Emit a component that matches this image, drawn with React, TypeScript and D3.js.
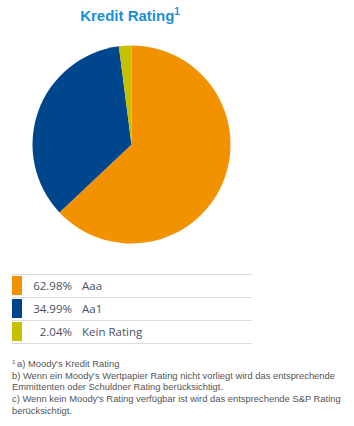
import React, { useRef, useEffect } from "react";
import * as d3 from "d3";

const categories = ["Aaa", "Aa1", "Kein Rating"];
const shares = [62.98, 34.99, 2.04];
const colors = ["#f39200", "#00468c", "#c6c000"];
const footnotes = [
  "a) Moody's Kredit Rating",
  "b) Wenn ein Moody's Wertpapier Rating nicht vorliegt wird das entsprechende",
  "Emmittenten oder Schuldner Rating berücksichtigt.",
  "c) Wenn kein Moody's Rating verfügbar ist wird das entsprechende S&P Rating",
  "berücksichtigt.",
];

const W = 354;
const H = 426;

const App = () => {
  const ref = useRef<SVGSVGElement>(null);

  useEffect(() => {
    const svg = d3.select(ref.current);
    svg.selectAll("*").remove();

    // title
    const title = svg
      .append("text")
      .attr("x", 130)
      .attr("y", 21)
      .attr("text-anchor", "middle")
      .attr("font-family", "Liberation Sans, Arial, sans-serif")
      .attr("font-weight", "bold")
      .attr("font-size", 15)
      .attr("fill", "#1b8fd8");
    title.append("tspan").text("Kredit Rating");
    title
      .append("tspan")
      .attr("font-size", 10)
      .attr("dy", -6)
      .text("1");

    // pie
    const data = categories.map((c, i) => ({ name: c, value: shares[i], color: colors[i] }));
    const pie = d3.pie<any>().sort(null).value((d) => d.value);
    const arc = d3.arc<any>().innerRadius(0).outerRadius(99);
    svg
      .append("g")
      .attr("transform", "translate(131.5,144.5)")
      .selectAll("path")
      .data(pie(data))
      .enter()
      .append("path")
      .attr("d", arc)
      .attr("fill", (d) => d.data.color);

    // legend table
    const rowY = d3.scaleBand().domain(categories).range([274, 343]);
    const legend = svg.append("g");
    legend
      .append("line")
      .attr("x1", 12)
      .attr("x2", 252)
      .attr("y1", 274.5)
      .attr("y2", 274.5)
      .attr("stroke", "#dcdcdc");
    const rows = legend
      .selectAll("g.row")
      .data(data)
      .enter()
      .append("g")
      .attr("class", "row")
      .attr("transform", (d) => `translate(0,${rowY(d.name)})`);
    rows
      .append("rect")
      .attr("x", 12)
      .attr("y", 2)
      .attr("width", 10)
      .attr("height", rowY.bandwidth() - 4)
      .attr("fill", (d) => d.color);
    rows
      .append("text")
      .attr("x", 72)
      .attr("y", 15.5)
      .attr("text-anchor", "end")
      .attr("font-family", "Open Sans, sans-serif")
      .attr("font-size", 11.5)
      .attr("fill", "#4a5160")
      .text((d) => d.value.toFixed(2) + "%");
    rows
      .append("text")
      .attr("x", 82)
      .attr("y", 15.5)
      .attr("font-family", "Open Sans, sans-serif")
      .attr("font-size", 11.5)
      .attr("fill", "#4a5160")
      .text((d) => d.name);
    rows
      .append("line")
      .attr("x1", 12)
      .attr("x2", 252)
      .attr("y1", rowY.bandwidth() + 0.5)
      .attr("y2", rowY.bandwidth() + 0.5)
      .attr("stroke", "#dcdcdc");

    // footnotes
    const notes = svg
      .append("text")
      .attr("font-family", "Liberation Sans, Arial, sans-serif")
      .attr("font-size", 9.4)
      .attr("fill", "#555");
    footnotes.forEach((line, i) => {
      const t = notes
        .append("tspan")
        .attr("x", 12)
        .attr("y", 367 + i * 11.7);
      if (i === 0) {
        t.append("tspan").attr("font-size", 6).attr("dy", -3).text("1 ");
        t.append("tspan").attr("dy", 3).text(line);
      } else {
        t.text(line);
      }
    });
  });

  return (
    <svg
      ref={ref}
      width={W}
      height={H}
      style={{ position: "absolute", left: 0, top: 0, background: "#fff" }}
    ></svg>
  );
};

export default App;
